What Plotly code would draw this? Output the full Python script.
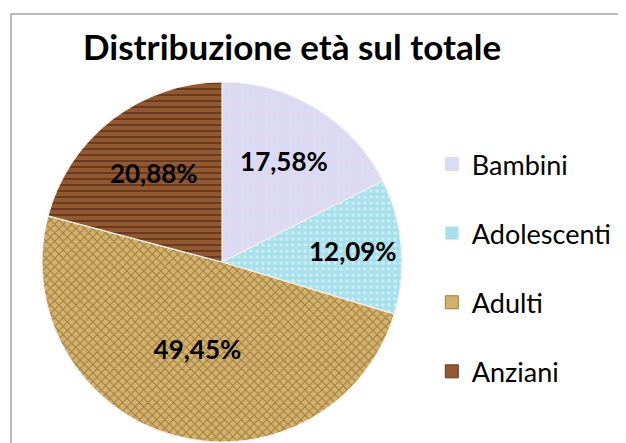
import plotly.graph_objects as go

categories = ["Bambini", "Adolescenti", "Adulti", "Anziani"]
values = [17.58, 12.09, 49.45, 20.88]
colors = ["#D7DDF5", "#A8DFEA", "#D3B26E", "#92592F"]
pattern_shapes = [".", ".", "x", "-"]
pattern_fg = ["#EAD2EF", "#C6EFF5", "#9E7B3A", "#673620"]

W, H = 626, 443
OFF = 8  # page body margin offset
cx, cy, r = 222 - OFF, 262 - OFF, 180

fig = go.Figure()
fig.add_trace(go.Pie(
    labels=categories, values=values, sort=False, direction="clockwise", rotation=0,
    marker=dict(colors=colors, line=dict(color="#F4F0EA", width=1.2),
                pattern=dict(shape=pattern_shapes, fgcolor=pattern_fg, bgcolor=colors,
                             size=6, solidity=0.3)),
    texttemplate="%{percent:.2%}", textposition="inside", insidetextorientation="horizontal",
    textfont=dict(family="Lato", size=26, color="black", weight="bold"),
    showlegend=False, hoverinfo="label+percent",
    domain=dict(x=[(cx - r) / W, (cx + r) / W], y=[(H - cy - r) / H, (H - cy + r) / H]),
))
for i, c in enumerate(categories):
    fig.add_trace(go.Scatter(x=[None], y=[None], mode="markers", name=c, legendgroup=c,
                             marker=dict(symbol="square", size=13, color=colors[i],
                                         line=dict(color=pattern_fg[i], width=1))))

fig.update_layout(
    width=W, height=H, margin=dict(l=0, r=0, t=0, b=0),
    paper_bgcolor="white", plot_bgcolor="white", separators=",.",
    title=dict(text="<b>Distribuzione età sul totale</b>", x=(83 - OFF) / W, xanchor="left",
               y=1 - (48 - OFF) / H, yanchor="middle",
               font=dict(family="Lato", size=35, color="black")),
    xaxis=dict(visible=False), yaxis=dict(visible=False),
    legend=dict(x=0.677, y=1 - 132 / H, xanchor="left", yanchor="top",
                font=dict(family="Lato", size=27, color="black"),
                tracegroupgap=31, bgcolor="rgba(0,0,0,0)"),
    shapes=[dict(type="rect", xref="paper", yref="paper",
                 x0=(11 - OFF) / W, x1=1.05, y0=-0.05, y1=1 - (14 - OFF) / H,
                 line=dict(color="#A6A6A6", width=1.5))],
)
fig.write_html("out.html")
